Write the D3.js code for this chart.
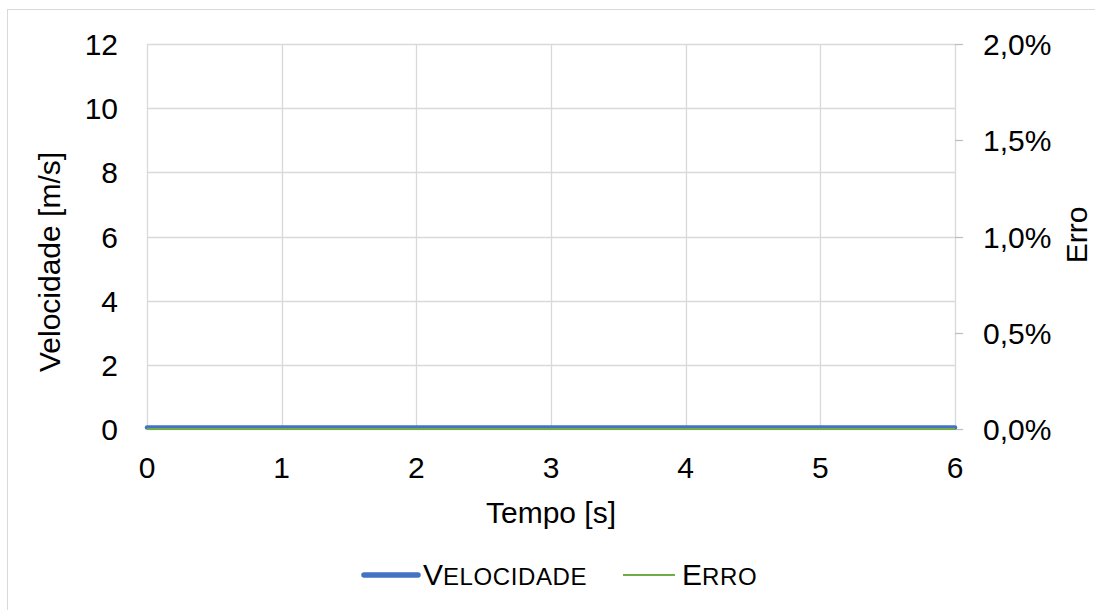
<!DOCTYPE html>
<html lang="pt">
	<head>
		<meta charset="utf-8">
		<title>Velocidade e Erro</title>
		<script type="text/javascript" src="https://cdn.jsdelivr.net/npm/d3@7"></script>
		<style>
			body { margin: 0; background: #fff; overflow: hidden; }
			text { font-family: "Liberation Sans", Arial, sans-serif; fill: #000; }
		</style>
	</head>
	<body>
		<script type="text/javascript">

			//
			// Data
			//
			var tempo = [0, 0.5, 1, 1.5, 2, 2.5, 3, 3.5, 4, 4.5, 5, 5.5, 6];
			var velocidade = [0.05, 0.05, 0.05, 0.05, 0.05, 0.05, 0.05, 0.05, 0.05, 0.05, 0.05, 0.05, 0.05];
			var erro = [0, 0, 0, 0, 0, 0, 0, 0, 0, 0, 0, 0, 0];
			var xTicks = [0, 1, 2, 3, 4, 5, 6];
			var yTicks = [0, 2, 4, 6, 8, 10, 12];
			var y2Ticks = [0, 0.005, 0.01, 0.015, 0.02];

			var width = 1095, height = 610;
			var plotLeft = 147, plotRight = 955, plotTop = 44, plotBottom = 429;
			var fs = 30;

			var svg = d3.select("body")
				.append("svg")
				.attr("width", width)
				.attr("height", height);

			// outer border (right and bottom edges fall outside the picture)
			svg.append("rect")
				.attr("x", 7.5).attr("y", 9.5)
				.attr("width", 1100).attr("height", 610)
				.attr("fill", "#fff")
				.attr("stroke", "#d9d9d9");

			var x = d3.scaleLinear().domain([0, 6]).range([plotLeft, plotRight]);
			var y = d3.scaleLinear().domain([0, 12]).range([plotBottom, plotTop]);
			var y2 = d3.scaleLinear().domain([0, 0.02]).range([plotBottom, plotTop]);

			// gridlines
			svg.append("g").selectAll("line")
				.data(yTicks)
				.enter().append("line")
				.attr("x1", plotLeft).attr("x2", plotRight)
				.attr("y1", function(d) { return Math.round(y(d)) + 0.5; })
				.attr("y2", function(d) { return Math.round(y(d)) + 0.5; })
				.attr("stroke", "#d9d9d9").attr("stroke-width", 1.3);

			svg.append("g").selectAll("line")
				.data(xTicks)
				.enter().append("line")
				.attr("y1", plotTop).attr("y2", plotBottom)
				.attr("x1", function(d) { return Math.round(x(d)) + 0.5; })
				.attr("x2", function(d) { return Math.round(x(d)) + 0.5; })
				.attr("stroke", "#d9d9d9").attr("stroke-width", 1.3);

			// right axis tick marks
			svg.append("g").selectAll("line")
				.data(y2Ticks)
				.enter().append("line")
				.attr("x1", plotRight).attr("x2", plotRight + 8)
				.attr("y1", function(d) { return Math.round(y2(d)) + 0.5; })
				.attr("y2", function(d) { return Math.round(y2(d)) + 0.5; })
				.attr("stroke", "#bfbfbf").attr("stroke-width", 1.3);

			// tick labels
			svg.append("g").selectAll("text")
				.data(yTicks)
				.enter().append("text")
				.attr("x", 118)
				.attr("y", function(d) { return y(d) + 11; })
				.attr("text-anchor", "end")
				.attr("font-size", fs)
				.text(function(d) { return d; });

			svg.append("g").selectAll("text")
				.data(y2Ticks)
				.enter().append("text")
				.attr("x", 983)
				.attr("y", function(d) { return y2(d) + 11; })
				.attr("font-size", fs)
				.text(function(d) { return (d * 100).toFixed(1).replace(".", ",") + "%"; });

			svg.append("g").selectAll("text")
				.data(xTicks)
				.enter().append("text")
				.attr("x", function(d) { return x(d); })
				.attr("y", 478)
				.attr("text-anchor", "middle")
				.attr("font-size", fs)
				.text(function(d) { return d; });

			// axis titles
			svg.append("text")
				.attr("x", 551).attr("y", 523)
				.attr("text-anchor", "middle")
				.attr("font-size", fs)
				.text("Tempo [s]");

			svg.append("text")
				.attr("transform", "translate(60,262) rotate(-90)")
				.attr("text-anchor", "middle")
				.attr("font-size", fs)
				.text("Velocidade [m/s]");

			svg.append("text")
				.attr("transform", "translate(1087,235) rotate(-90)")
				.attr("text-anchor", "middle")
				.attr("font-size", fs)
				.text("Erro");

			// series
			var pts = tempo.map(function(t, i) { return { t: t, v: velocidade[i], e: erro[i] }; });

			svg.append("path")
				.datum(pts)
				.attr("fill", "none")
				.attr("stroke", "#4472c4")
				.attr("stroke-width", 4.5)
				.attr("stroke-linecap", "round")
				.attr("d", d3.line().x(function(d) { return x(d.t); }).y(function(d) { return y(d.v); }));

			svg.append("path")
				.datum(pts)
				.attr("fill", "none")
				.attr("stroke", "#70ad47")
				.attr("stroke-width", 2.2)
				.attr("d", d3.line().x(function(d) { return x(d.t); }).y(function(d) { return y2(d.e); }));

			// legend
			var legend = svg.append("g");
			legend.append("line")
				.attr("x1", 364).attr("x2", 418)
				.attr("y1", 575).attr("y2", 575)
				.attr("stroke", "#4472c4").attr("stroke-width", 5.5)
				.attr("stroke-linecap", "round");
			var t1 = legend.append("text").attr("x", 423).attr("y", 585).attr("font-size", fs);
			t1.append("tspan").text("V");
			t1.append("tspan").attr("font-size", 24).attr("letter-spacing", 0.6).text("ELOCIDADE");

			legend.append("line")
				.attr("x1", 623).attr("x2", 675)
				.attr("y1", 575).attr("y2", 575)
				.attr("stroke", "#70ad47").attr("stroke-width", 2.2);
			var t2 = legend.append("text").attr("x", 682).attr("y", 585).attr("font-size", fs);
			t2.append("tspan").text("E");
			t2.append("tspan").attr("font-size", 24).attr("letter-spacing", 0.6).text("RRO");

		</script>
	</body>
</html>
